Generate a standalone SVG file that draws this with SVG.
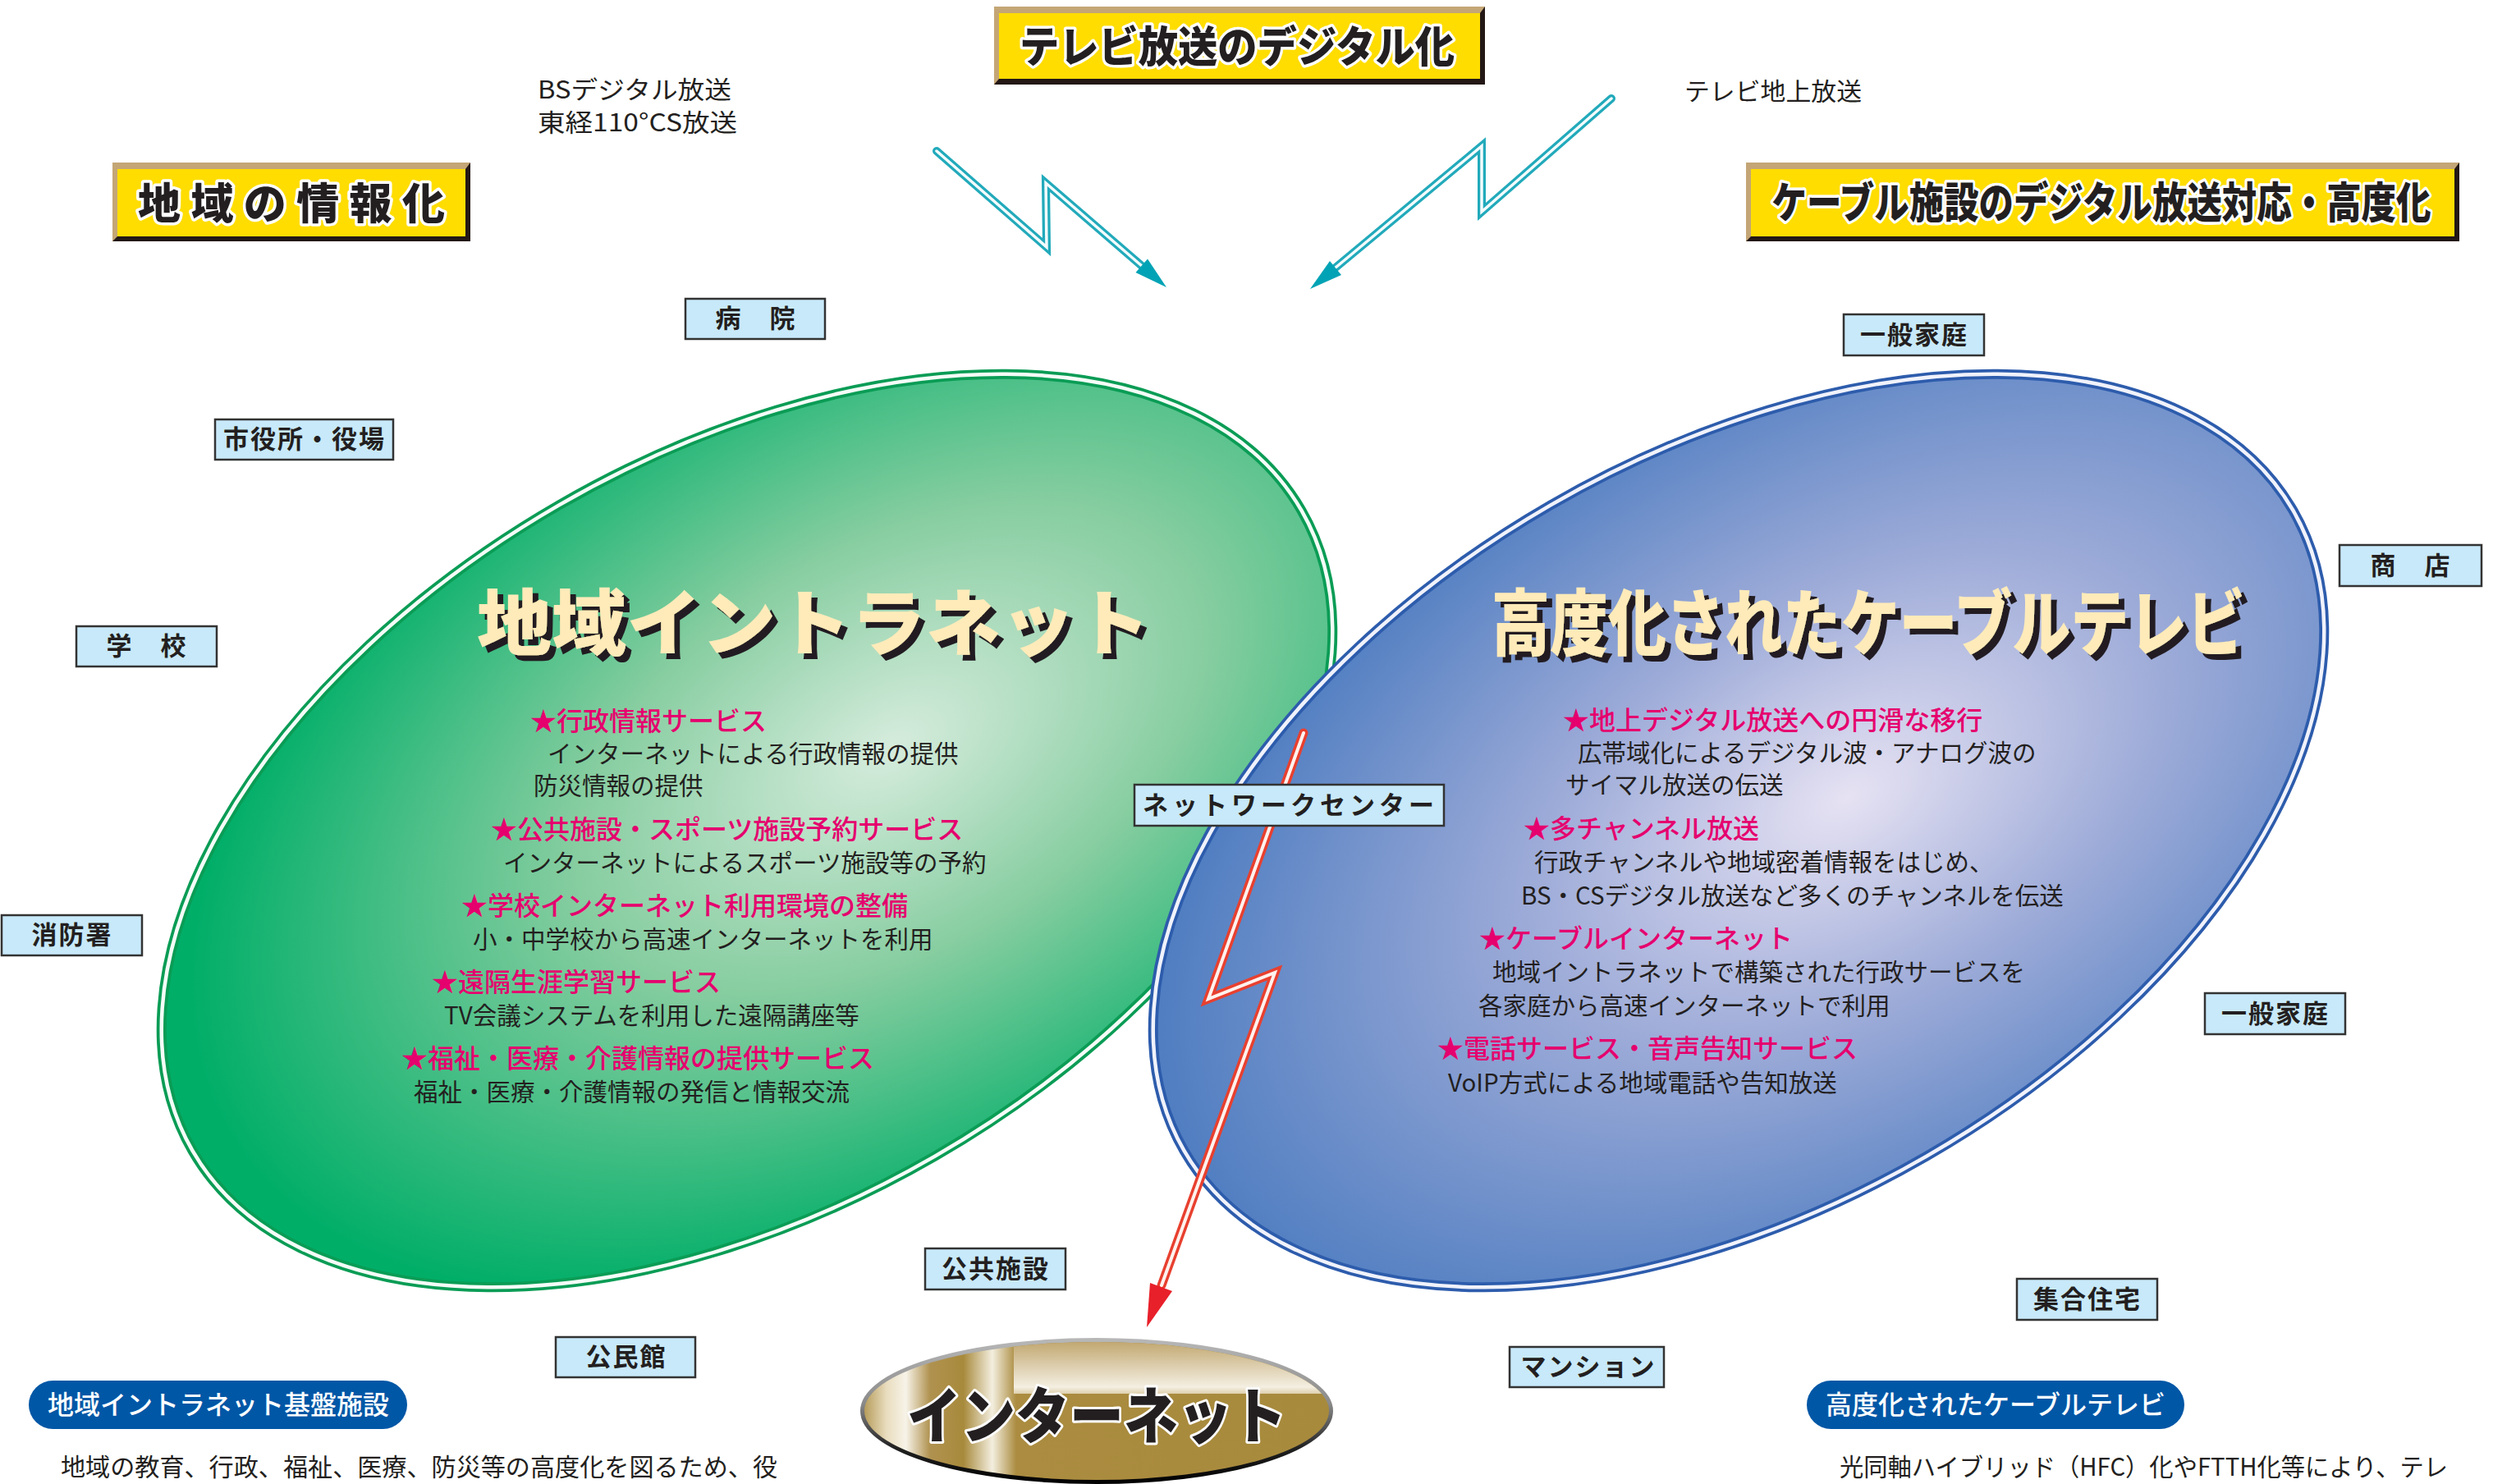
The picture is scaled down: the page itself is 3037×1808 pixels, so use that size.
<svg xmlns="http://www.w3.org/2000/svg" width="3037" height="1808" viewBox="0 0 3037 1808">
<defs>
<style>
text{font-family:"Noto Sans CJK JP","Noto Sans",sans-serif;}
.lbl rect{fill:#C8E9F9;stroke:#333;stroke-width:2.5;}
.lbl text{font-size:31px;font-weight:700;fill:#231F20;text-anchor:middle;letter-spacing:2px;}
.ybox text{font-size:52px;font-weight:900;fill:#231F20;stroke:#fff;stroke-width:7px;paint-order:stroke;stroke-linejoin:round;text-anchor:middle;}
.hd{fill:#E5006E;font-size:32px;font-weight:500;}
.ds{fill:#231F20;font-size:29.5px;font-weight:400;}
.big{font-size:88px;font-weight:900;fill:#FFEBB9;filter:url(#shadow);}
.plain{fill:#231F20;font-size:30px;font-weight:400;}
.pill rect{fill:#0057A6;}
.pill text{fill:#fff;font-size:32px;font-weight:500;text-anchor:middle;}
.cy1{fill:none;stroke:#22AABB;stroke-width:10;stroke-linejoin:miter;stroke-linecap:round;}
.cy2{fill:none;stroke:#F4FCFD;stroke-width:3.5;stroke-linejoin:miter;stroke-linecap:round;}
.rd1{fill:none;stroke:#E8402F;stroke-width:11;stroke-linejoin:miter;stroke-linecap:round;}
.rd2{fill:none;stroke:#FFF2EE;stroke-width:4;stroke-linejoin:miter;stroke-linecap:round;}
</style>
<filter id="shadow" x="-5%" y="-20%" width="115%" height="150%">
<feDropShadow dx="7" dy="7" stdDeviation="0" flood-color="#231F20" flood-opacity="1"/>
</filter>
<radialGradient id="gG" cx="0.63" cy="0.5" r="0.6" fx="0.63" fy="0.5">
<stop offset="0" stop-color="#D6ECDD"/>
<stop offset="0.45" stop-color="#86CDA0"/>
<stop offset="1" stop-color="#00AE68"/>
</radialGradient>
<radialGradient id="gB" cx="0.586" cy="0.534" r="0.6" fx="0.586" fy="0.534">
<stop offset="0" stop-color="#E6E2F3"/>
<stop offset="0.45" stop-color="#9DABD8"/>
<stop offset="1" stop-color="#4D7CC0"/>
</radialGradient>
<linearGradient id="gold" x1="1045" y1="0" x2="1630" y2="0" gradientUnits="userSpaceOnUse">
<stop offset="0" stop-color="#A88A3E"/>
<stop offset="0.06" stop-color="#E9DDBF"/>
<stop offset="0.1" stop-color="#F7F3E8"/>
<stop offset="0.15" stop-color="#B09250"/>
<stop offset="0.22" stop-color="#A88A3C"/>
<stop offset="0.28" stop-color="#F3EEDF"/>
<stop offset="0.33" stop-color="#AB8C40"/>
<stop offset="1" stop-color="#A78A3C"/>
</linearGradient>
<linearGradient id="goldTop" x1="0" y1="1632" x2="0" y2="1700" gradientUnits="userSpaceOnUse">
<stop offset="0" stop-color="#BFA46B"/>
<stop offset="0.85" stop-color="#F4EFE2"/>
<stop offset="1" stop-color="#D9C8A0"/>
</linearGradient>
<linearGradient id="rim" x1="0" y1="1630" x2="0" y2="1808" gradientUnits="userSpaceOnUse">
<stop offset="0" stop-color="#B8B8B8"/>
<stop offset="0.45" stop-color="#8A8A8A"/>
<stop offset="0.75" stop-color="#222"/>
<stop offset="1" stop-color="#000"/>
</linearGradient>
<clipPath id="inetClip"><ellipse cx="1336" cy="1719" rx="283" ry="84"/></clipPath>
</defs>
<rect width="3037" height="1808" fill="#fff"/>

<g id="ellipse-intranet">
<ellipse cx="910" cy="1012" rx="780" ry="458" transform="rotate(-30 910 1012)" fill="url(#gG)" stroke="#0A9C55" stroke-width="12"/>
<ellipse cx="910" cy="1012" rx="780" ry="458" transform="rotate(-30 910 1012)" fill="none" stroke="#F4FCF7" stroke-width="4.5"/>
</g>

<g id="ellipse-catv">
<ellipse cx="2118" cy="1012" rx="780" ry="458" transform="rotate(-30 2118 1012)" fill="url(#gB)" stroke="#2D5CAC" stroke-width="12"/>
<ellipse cx="2118" cy="1012" rx="780" ry="458" transform="rotate(-30 2118 1012)" fill="none" stroke="#F0F2FB" stroke-width="4.5"/>
</g>

<g id="intranet-text">
<text class="big" x="581" y="791" textLength="820" lengthAdjust="spacingAndGlyphs">地域イントラネット</text>
<text class="hd" x="646" y="890">★行政情報サービス</text>
<text class="ds" x="667" y="929">インターネットによる行政情報の提供</text>
<text class="ds" x="650" y="968">防災情報の提供</text>
<text class="hd" x="598" y="1022">★公共施設・スポーツ施設予約サービス</text>
<text class="ds" x="613" y="1062">インターネットによるスポーツ施設等の予約</text>
<text class="hd" x="562" y="1115">★学校インターネット利用環境の整備</text>
<text class="ds" x="576" y="1155">小・中学校から高速インターネットを利用</text>
<text class="hd" x="526" y="1208">★遠隔生涯学習サービス</text>
<text class="ds" x="541" y="1248">TV会議システムを利用した遠隔講座等</text>
<text class="hd" x="489" y="1301">★福祉・医療・介護情報の提供サービス</text>
<text class="ds" x="504" y="1341">福祉・医療・介護情報の発信と情報交流</text>
</g>

<g id="catv-text">
<text class="big" x="1817" y="791" textLength="918" lengthAdjust="spacingAndGlyphs">高度化されたケーブルテレビ</text>
<text class="hd" x="1904" y="889">★地上デジタル放送への円滑な移行</text>
<text class="ds" x="1922" y="928">広帯域化によるデジタル波・アナログ波の</text>
<text class="ds" x="1907" y="967">サイマル放送の伝送</text>
<text class="hd" x="1856" y="1021">★多チャンネル放送</text>
<text class="ds" x="1869" y="1061">行政チャンネルや地域密着情報をはじめ、</text>
<text class="ds" x="1853" y="1102">BS・CSデジタル放送など多くのチャンネルを伝送</text>
<text class="hd" x="1802" y="1155">★ケーブルインターネット</text>
<text class="ds" x="1818" y="1195">地域イントラネットで構築された行政サービスを</text>
<text class="ds" x="1801" y="1236">各家庭から高速インターネットで利用</text>
<text class="hd" x="1751" y="1289">★電話サービス・音声告知サービス</text>
<text class="ds" x="1764" y="1330">VoIP方式による地域電話や告知放送</text>
</g>

<g id="connectors">
<polyline class="cy1" points="1141,184 1275,301 1274,223 1391,324"/>
<polyline class="cy2" points="1141,184 1275,301 1274,223 1391,324"/>
<polygon points="1421,350 1383.5,332 1398,315.5" fill="#00A3B5"/>
<polyline class="cy1" points="1963,120 1805,258 1805,178 1627,326"/>
<polyline class="cy2" points="1963,120 1805,258 1805,178 1627,326"/>
<polygon points="1596,352 1634,335 1620,318" fill="#00A3B5"/>
<polyline class="rd1" points="1588,893 1472,1217 1553,1185 1415,1566"/>
<polyline class="rd2" points="1588,893 1472,1217 1553,1185 1415,1566"/>
<polygon points="1397,1617 1428,1573 1401,1563" fill="#E8202A"/>
</g>

<g id="title-local" class="ybox">
<rect x="137" y="198" width="436" height="96" fill="#231815"/>
<polygon points="137,198 573,198 567,206 143,206 143,288 137,294" fill="#C4A676"/>
<rect x="143" y="206" width="424" height="82" fill="#FFDD00"/>
<text x="355" y="267" textLength="374">地域の情報化</text>
</g>
<g id="title-digital" class="ybox">
<rect x="1211" y="8" width="598" height="95" fill="#231815"/>
<polygon points="1211,8 1809,8 1803,16 1217,16 1217,96 1211,103" fill="#C4A676"/>
<rect x="1217" y="16" width="586" height="80" fill="#FFDD00"/>
<text x="1507" y="76" textLength="530" lengthAdjust="spacingAndGlyphs">テレビ放送のデジタル化</text>
</g>
<g id="title-cable" class="ybox">
<rect x="2127" y="198" width="869" height="96" fill="#231815"/>
<polygon points="2127,198 2996,198 2990,206 2133,206 2133,288 2127,294" fill="#C4A676"/>
<rect x="2133" y="206" width="857" height="82" fill="#FFDD00"/>
<text x="2560" y="266" textLength="803" lengthAdjust="spacingAndGlyphs">ケーブル施設のデジタル放送対応・高度化</text>
</g>

<g id="broadcast-labels">
<text class="plain" x="655" y="120" textLength="236" lengthAdjust="spacingAndGlyphs">BSデジタル放送</text>
<text class="plain" x="655" y="160" textLength="243" lengthAdjust="spacingAndGlyphs">東経110°CS放送</text>
<text class="plain" x="2052" y="122" textLength="216" lengthAdjust="spacingAndGlyphs">テレビ地上放送</text>
</g>

<g id="node-hospital" class="lbl"><rect x="835" y="364" width="170" height="49"/><text x="921" y="399">病　院</text></g>
<g id="node-cityhall" class="lbl"><rect x="262" y="511" width="217" height="49"/><text x="371" y="546">市役所・役場</text></g>
<g id="node-school" class="lbl"><rect x="93" y="763" width="171" height="49"/><text x="179" y="798">学　校</text></g>
<g id="node-fire" class="lbl"><rect x="2" y="1115" width="171" height="49"/><text x="88" y="1150">消防署</text></g>
<g id="node-public" class="lbl"><rect x="1127" y="1521" width="171" height="50"/><text x="1213" y="1557">公共施設</text></g>
<g id="node-community" class="lbl"><rect x="677" y="1629" width="170" height="49"/><text x="763" y="1664">公民館</text></g>
<g id="node-home1" class="lbl"><rect x="2246" y="383" width="171" height="50"/><text x="2332" y="419">一般家庭</text></g>
<g id="node-shop" class="lbl"><rect x="2850" y="664" width="173" height="50"/><text x="2937" y="700">商　店</text></g>
<g id="node-home2" class="lbl"><rect x="2686" y="1210" width="171" height="50"/><text x="2772" y="1246">一般家庭</text></g>
<g id="node-apartment" class="lbl"><rect x="2457" y="1558" width="171" height="50"/><text x="2543" y="1594">集合住宅</text></g>
<g id="node-mansion" class="lbl"><rect x="1839" y="1641" width="188" height="49"/><text x="1935" y="1676">マンション</text></g>
<g id="node-netcenter" class="lbl"><rect x="1382" y="956" width="377" height="50"/><text x="1572" y="992" style="letter-spacing:5px">ネットワークセンター</text></g>

<g id="node-internet">
<ellipse cx="1336" cy="1719" rx="285" ry="86" fill="url(#rim)" stroke="url(#rim)" stroke-width="6"/>
<g clip-path="url(#inetClip)">
<rect x="1040" y="1630" width="600" height="180" fill="url(#gold)"/>
<rect x="1235" y="1630" width="400" height="68" fill="url(#goldTop)"/>
</g>
<text x="1336" y="1752" text-anchor="middle" font-size="74" font-weight="900" fill="#231F20" stroke="#fff" stroke-width="6" paint-order="stroke" stroke-linejoin="round" textLength="462" lengthAdjust="spacingAndGlyphs">インターネット</text>
</g>

<g id="pill-intranet" class="pill"><rect x="35" y="1682" width="461" height="59" rx="29.5"/><text x="266" y="1723">地域イントラネット基盤施設</text></g>
<g id="pill-catv" class="pill"><rect x="2201" y="1682" width="460" height="59" rx="29.5"/><text x="2431" y="1723">高度化されたケーブルテレビ</text></g>

<g id="footer-text">
<text class="ds" x="74" y="1798" style="font-size:30px" textLength="873" lengthAdjust="spacingAndGlyphs">地域の教育、行政、福祉、医療、防災等の高度化を図るため、役</text>
<text class="ds" x="2241" y="1798" style="font-size:30px" textLength="741" lengthAdjust="spacingAndGlyphs">光同軸ハイブリッド（HFC）化やFTTH化等により、テレ</text>
</g>
</svg>
